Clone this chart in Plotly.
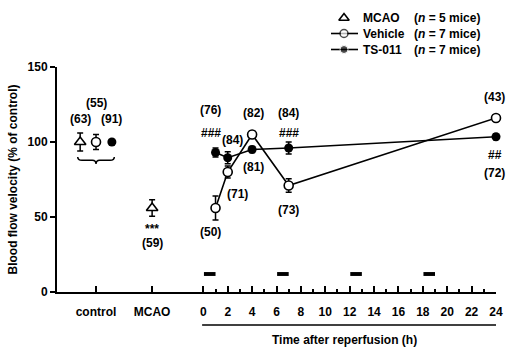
import plotly.graph_objects as go

# ---------------- data ----------------
time_hours = [1, 2, 4, 7, 24]
vehicle_mean = [56, 80, 105, 71, 116]
vehicle_err = [8, 4, 2.5, 4.5, 2]
ts011_mean = [93, 89.5, 95, 96, 103.5]
ts011_err = [3, 4, 2, 4, 2]

control_x = -8.8
mcao_x = -4.2
group_offset = 1.3
ctrl_mcao_mean, ctrl_mcao_err = 100, 6
ctrl_vehicle_mean, ctrl_vehicle_err = 100, 5
ctrl_ts011_mean, ctrl_ts011_err = 100, 1.5
mcao_mean, mcao_err = 56, 5.5

dose_times = [0, 6, 12, 18]
dose_duration = 1
dose_level = 12

time_ticks = list(range(0, 25, 2))
time_minor = list(range(1, 24, 2))

# annotations (text, x, y)
n_labels = [
    ("(63)", control_x - group_offset, 115.5),
    ("(55)", control_x, 126),
    ("(91)", control_x + group_offset, 115.5),
    ("***", mcao_x, 42),
    ("(59)", mcao_x, 32.5),
    ("(76)", 0.6, 121.3),
    ("###", 0.6, 106),
    ("(84)", 2.4, 101.3),
    ("(82)", 4.1, 119.3),
    ("(84)", 7.0, 119.3),
    ("###", 7.0, 106),
    ("(81)", 4.1, 83.5),
    ("(71)", 2.8, 65.3),
    ("(50)", 0.6, 40),
    ("(73)", 7.0, 54.7),
    ("(43)", 23.9, 130),
    ("##", 23.9, 91.5),
    ("(72)", 23.9, 79.3),
]

legend_rows = [
    ("MCAO", "5"),
    ("Vehicle", "7"),
    ("TS-011", "7"),
]

FONT = "Liberation Sans, Arial, sans-serif"
BLK = "black"

fig = go.Figure()

# TS-011 series (filled)
fig.add_trace(go.Scatter(
    x=time_hours, y=ts011_mean, mode="lines+markers",
    line=dict(color=BLK, width=1.6),
    marker=dict(symbol="circle", size=9, color=BLK),
    error_y=dict(type="data", array=ts011_err, thickness=1.5, width=3, color=BLK),
    showlegend=False, cliponaxis=False,
))
# Vehicle series (open)
fig.add_trace(go.Scatter(
    x=time_hours, y=vehicle_mean, mode="lines+markers",
    line=dict(color=BLK, width=1.6),
    marker=dict(symbol="circle", size=9, color="white", line=dict(color=BLK, width=1.6)),
    error_y=dict(type="data", array=vehicle_err, thickness=1.5, width=3, color=BLK),
    showlegend=False, cliponaxis=False,
))
# control group
fig.add_trace(go.Scatter(
    x=[control_x - group_offset, mcao_x], y=[ctrl_mcao_mean, mcao_mean], mode="markers",
    marker=dict(symbol="triangle-up", size=10, color="white", line=dict(color=BLK, width=1.6)),
    error_y=dict(type="data", array=[ctrl_mcao_err, mcao_err], thickness=1.5, width=3, color=BLK),
    showlegend=False, cliponaxis=False,
))
fig.add_trace(go.Scatter(
    x=[control_x], y=[ctrl_vehicle_mean], mode="markers",
    marker=dict(symbol="circle", size=9, color="white", line=dict(color=BLK, width=1.6)),
    error_y=dict(type="data", array=[ctrl_vehicle_err], thickness=1.5, width=3, color=BLK),
    showlegend=False, cliponaxis=False,
))
fig.add_trace(go.Scatter(
    x=[control_x + group_offset], y=[ctrl_ts011_mean], mode="markers",
    marker=dict(symbol="circle", size=9, color=BLK),
    error_y=dict(type="data", array=[ctrl_ts011_err], thickness=1.5, width=3, color=BLK),
    showlegend=False, cliponaxis=False,
))

# legend symbols on a pixel-like helper axis
leg_y = [18, 33.5, 49.5]
leg_line_x = [331, 358]
leg_sym_x = 344
fig.add_trace(go.Scatter(
    x=[leg_sym_x], y=[leg_y[0]], xaxis="x2", yaxis="y2", mode="markers",
    marker=dict(symbol="triangle-up", size=9, color="white", line=dict(color=BLK, width=1.6)),
    showlegend=False, cliponaxis=False, hoverinfo="skip"))
fig.add_trace(go.Scatter(
    x=[leg_line_x[0], leg_sym_x, leg_line_x[1]], y=[leg_y[1]] * 3, xaxis="x2", yaxis="y2",
    mode="lines+markers", line=dict(color=BLK, width=1.6),
    marker=dict(size=[0, 8, 0], color="white", line=dict(color=BLK, width=1.5)),
    showlegend=False, cliponaxis=False, hoverinfo="skip"))
fig.add_trace(go.Scatter(
    x=[leg_line_x[0], leg_sym_x, leg_line_x[1]], y=[leg_y[2]] * 3, xaxis="x2", yaxis="y2",
    mode="lines+markers", line=dict(color=BLK, width=1.6),
    marker=dict(size=[0, 8, 0], color=BLK),
    showlegend=False, cliponaxis=False, hoverinfo="skip"))

H = 349
top_m, bot_m = 5, 57
plot_h = H - top_m - bot_m
main_top_px = 67
main_dom_top = (H - bot_m - main_top_px) / plot_h


def paper_y(px):
    return (H - bot_m - px) / plot_h


annotations = []
for txt, x, y in n_labels:
    annotations.append(dict(x=x, y=y, xref="x", yref="y", text="<b>%s</b>" % txt,
                            showarrow=False, font=dict(family=FONT, size=12, color=BLK)))
for (name, n), y in zip(legend_rows, leg_y):
    annotations.append(dict(x=361, y=y, xref="x2", yref="y2", xanchor="left", yanchor="middle",
                            text="<b>%s</b>" % name, showarrow=False,
                            font=dict(family=FONT, size=12, color=BLK)))
    annotations.append(dict(x=412, y=y, xref="x2", yref="y2", xanchor="left", yanchor="middle",
                            text="<b>(<i>n</i> = %s mice)</b>" % n, showarrow=False,
                            font=dict(family=FONT, size=12, color=BLK)))
annotations.append(dict(x=344, y=paper_y(340), xref="x2", yref="paper",
                        xanchor="center", yanchor="middle",
                        text="<b>Time after reperfusion (h)</b>", showarrow=False,
                        font=dict(family=FONT, size=12, color=BLK)))

shapes = []
for t in dose_times:
    shapes.append(dict(type="rect", xref="x", yref="y", x0=t + 0.05, x1=t + dose_duration,
                       y0=dose_level - 1.3, y1=dose_level + 1.3,
                       fillcolor=BLK, line=dict(width=0)))
# underline of time axis
shapes.append(dict(type="line", xref="x", yref="paper", x0=time_ticks[0] - 0.1, x1=time_ticks[-1] + 0.1,
                   y0=paper_y(325), y1=paper_y(325), line=dict(color=BLK, width=1.6)))
# brace under control group
bx0, bx1 = control_x - group_offset - 0.2, control_x + group_offset + 0.2
yt, ym, yb = 90, 87.8, 85.3
brace = (f"M {bx0},{yt} Q {bx0},{ym} {bx0+0.35},{ym} L {control_x-0.3},{ym} "
         f"Q {control_x},{ym} {control_x},{yb} Q {control_x},{ym} {control_x+0.3},{ym} "
         f"L {bx1-0.35},{ym} Q {bx1},{ym} {bx1},{yt}")
shapes.append(dict(type="path", xref="x", yref="y", path=brace, line=dict(color=BLK, width=1.5)))

fig.update_layout(
    width=508, height=H,
    margin=dict(l=57, r=12, t=top_m, b=bot_m, autoexpand=False),
    plot_bgcolor="rgba(0,0,0,0)", paper_bgcolor="white",
    font=dict(family=FONT, size=12, color=BLK),
    showlegend=False,
    annotations=annotations, shapes=shapes,
    xaxis=dict(
        range=[-12, 24], showgrid=False, zeroline=False, automargin=False,
        showline=True, linecolor=BLK, linewidth=2,
        tickmode="array",
        tickvals=[control_x, mcao_x] + time_ticks,
        ticktext=["<b>control</b>", "<b>MCAO</b>"] + ["<b>%d</b>" % t for t in time_ticks],
        ticks="inside", ticklen=6, tickwidth=1.5, tickcolor=BLK,
        ticklabelstandoff=8,
        minor=dict(tickvals=time_minor, ticks="inside", ticklen=3, tickwidth=1.5, tickcolor=BLK),
        tickfont=dict(family=FONT, size=12, color=BLK),
    ),
    yaxis=dict(
        domain=[0, main_dom_top], automargin=False,
        range=[0, 150], showgrid=False, zeroline=False,
        showline=True, linecolor=BLK, linewidth=2,
        tickvals=[0, 50, 100, 150], ticktext=["<b>0</b>", "<b>50</b>", "<b>100</b>", "<b>150</b>"],
        ticks="outside", ticklen=5, tickwidth=2, tickcolor=BLK,
        tickfont=dict(family=FONT, size=12, color=BLK),
        title=dict(text="<b>Blood flow velocity (% of control)</b>", standoff=7,
                   font=dict(family=FONT, size=12, color=BLK)),
    ),
    xaxis2=dict(range=[57, 496], domain=[0, 1], overlaying="x", anchor="y2", visible=False,
                fixedrange=True),
    yaxis2=dict(range=[H - bot_m, top_m], domain=[0, 1], anchor="x2",
                visible=False, fixedrange=True),
)

fig.write_html("out.html", config={"displayModeBar": False},
               post_script="document.body.style.margin='0px';")
